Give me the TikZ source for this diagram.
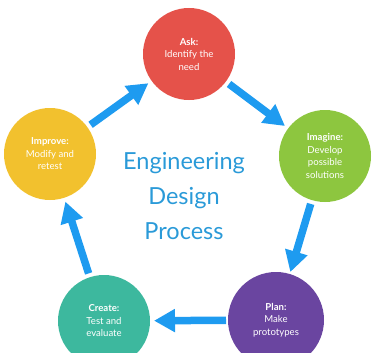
\documentclass[tikz,border=0pt]{standalone}
\usepackage{fontspec}
\setmainfont{Lato}
\usetikzlibrary{arrows.meta}
\definecolor{askc}{HTML}{E5524A}
\definecolor{imaginec}{HTML}{8DC63F}
\definecolor{planc}{HTML}{6A45A0}
\definecolor{createc}{HTML}{3DB89E}
\definecolor{improvec}{HTML}{F2C12E}
\definecolor{arrowc}{HTML}{1E9BF0}
\definecolor{titlec}{HTML}{2A9AD8}
\tikzset{
  stage/.style={circle, minimum size=92pt, inner sep=0pt, text=white, align=center,
    font=\fontsize{9.6}{12.5}\selectfont},
  flow/.style={draw=arrowc, line width=7.5pt, -{Triangle[length=21pt,width=22pt]}, shorten <=50pt, shorten >=50pt},
  title/.style={text=titlec, align=center, font=\fontsize{23.5}{35}\selectfont}
}
\begin{document}
\begin{tikzpicture}[x=1pt,y=-1pt]
\useasboundingbox (0,0) rectangle (372,353);
\node[stage, fill=askc] (ask) at (189,54) {\textbf{Ask:}\\Identify the\\need};
\node[stage, fill=imaginec] (imagine) at (325,156) {\textbf{Imagine:}\\Develop\\possible\\solutions};
\node[stage, fill=planc, minimum size=96pt] (plan) at (276,320) {\textbf{Plan:}\\Make\\prototypes};
\node[stage, fill=createc] (create) at (104,321) {\textbf{Create:}\\Test and\\evaluate};
\node[stage, fill=improvec] (improve) at (50,154) {\textbf{Improve:}\\Modify and\\retest};
\node[title] (t) at (184,196) {Engineering\\Design\\Process};
\draw[flow] (ask.center) -- (imagine.center);
\draw[flow] (imagine.center) -- (plan.center);
\draw[flow] (plan.center) -- (create.center);
\draw[flow] (create.center) -- (improve.center);
\draw[flow] (improve.center) -- (ask.center);
\end{tikzpicture}
\end{document}
